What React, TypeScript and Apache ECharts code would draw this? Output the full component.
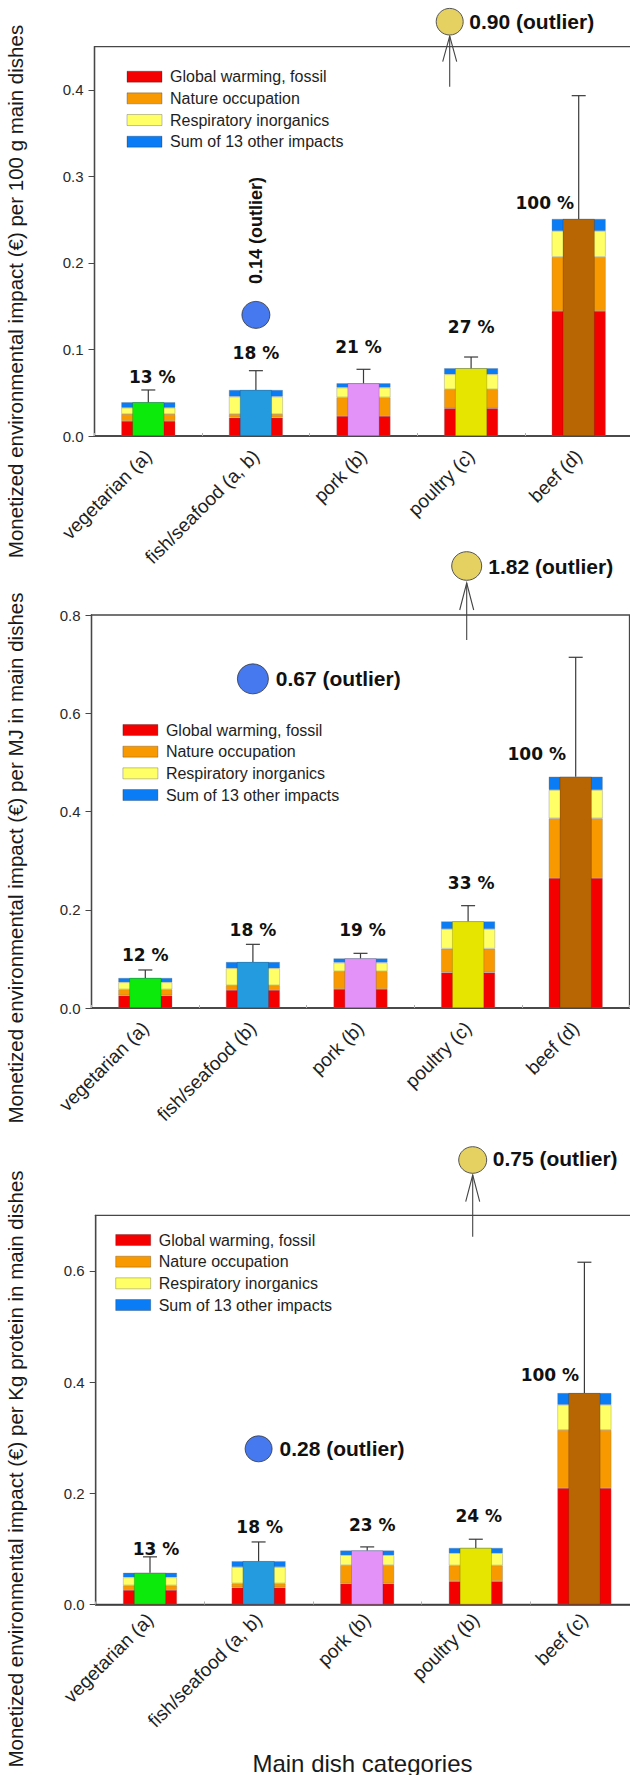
import React, { useEffect, useRef } from "react";
import * as echarts from "echarts";

// Impact categories shown in every panel (stacked on the wide bars)
const impactNames = ["Global warming, fossil", "Nature occupation", "Respiratory inorganics", "Sum of 13 other impacts"];
const impactColors = ["#F50000", "#F99900", "#FFFF66", "#0A7CF5"];
const dishColors = ["#0BEA0B", "#259BDF", "#E393F7", "#E6E500", "#B86503"];

// Panel 1: per 100 g main dishes
const categories100g = ["vegetarian (a)", "fish/seafood (a, b)", "pork (b)", "poultry (c)", "beef (d)"];
const warming100g = [0.0173, 0.0212, 0.0231, 0.032, 0.1445];
const nature100g = [0.0081, 0.0042, 0.0216, 0.022, 0.0625];
const respiratory100g = [0.0073, 0.0201, 0.0112, 0.0173, 0.03];
const other100g = [0.0063, 0.0077, 0.005, 0.007, 0.0139];
const error100g = [0.0142, 0.0223, 0.0162, 0.013, 0.1425];
const share100g = [13, 18, 21, 27, 100];
const fishOutlier100g = 0.14;
const beefOutlier100g = 0.9;

// Panel 2: per MJ in main dishes
const categoriesMJ = ["vegetarian (a)", "fish/seafood (b)", "pork (b)", "poultry (c)", "beef (d)"];
const warmingMJ = [0.0258, 0.0366, 0.0387, 0.0726, 0.2646];
const natureMJ = [0.0122, 0.0096, 0.036, 0.0482, 0.1215];
const respiratoryMJ = [0.0143, 0.0346, 0.0176, 0.04, 0.0577];
const otherMJ = [0.0088, 0.0128, 0.0088, 0.0156, 0.0271];
const errorMJ = [0.0163, 0.036, 0.0102, 0.0319, 0.243];
const shareMJ = [12, 18, 19, 33, 100];
const fishOutlierMJ = 0.67;
const beefOutlierMJ = 1.82;

// Panel 3: per kg protein in main dishes
const categoriesProtein = ["vegetarian (a)", "fish/seafood (a, b)", "pork (b)", "poultry (b)", "beef (c)"];
const warmingProtein = [0.026, 0.0308, 0.038, 0.0421, 0.2094];
const natureProtein = [0.0084, 0.0072, 0.0328, 0.0282, 0.1046];
const respiratoryProtein = [0.0143, 0.0292, 0.0179, 0.022, 0.0453];
const otherProtein = [0.0083, 0.0108, 0.0084, 0.0095, 0.021];
const errorProtein = [0.0287, 0.0345, 0.0065, 0.0156, 0.2353];
const shareProtein = [13, 18, 23, 24, 100];
const fishOutlierProtein = 0.28;
const beefOutlierProtein = 0.75;

const yTitles = [
  "Monetized environmental impact (\u20ac) per 100 g main dishes",
  "Monetized environmental impact (\u20ac) per MJ in main dishes",
  "Monetized environmental impact (\u20ac) per Kg protein in main dishes",
];
const xTitle = "Main dish categories";

const SANS = '"Liberation Sans", Arial, sans-serif';

// Layout of each panel (pixels)
const panels = [
  {
    categories: categories100g,
    components: [warming100g, nature100g, respiratory100g, other100g],
    errors: error100g,
    shares: share100g,
    fishOutlier: fishOutlier100g,
    beefOutlier: beefOutlier100g,
    yTitle: yTitles[0],
    yMax: 0.45,
    yInterval: 0.1,
    grid: { left: 94.5, top: 46.7, width: 538, height: 389.3 },
    legend: { left: 126.6, top: 67.7 },
    labelMargin: 17,
    yTitleCenter: 291.5,
    // [dx, lift] for the percentage labels
    nudges: [[4, 7], [0, 12], [-5, 16.7], [0, 23.7], [-34, 9.7]],
    fishSymbol: [28, 27],
    fishLabelVertical: true,
    arrow: { cx: 449.7, cy: 21.7, rx: 13.5, ry: 13.3, bottom: 86.7, tip: 36, head: 61.7, labelX: 469.3, labelY: 21.7 },
  },
  {
    categories: categoriesMJ,
    components: [warmingMJ, natureMJ, respiratoryMJ, otherMJ],
    errors: errorMJ,
    shares: shareMJ,
    fishOutlier: fishOutlierMJ,
    beefOutlier: beefOutlierMJ,
    yTitle: yTitles[1],
    yMax: 0.8,
    yInterval: 0.2,
    grid: { left: 91.5, top: 615, width: 538, height: 393 },
    legend: { left: 122.5, top: 721 },
    labelMargin: 17,
    yTitleCenter: 858,
    nudges: [[0, 9], [0, 8.3], [2, 17.6], [3, 16.4], [-39, 16.7]],
    fishSymbol: [31, 30],
    fishLabelVertical: false,
    arrow: { cx: 466.7, cy: 566, rx: 15, ry: 14.3, bottom: 640, tip: 583, head: 610, labelX: 488.3, labelY: 566 },
  },
  {
    categories: categoriesProtein,
    components: [warmingProtein, natureProtein, respiratoryProtein, otherProtein],
    errors: errorProtein,
    shares: shareProtein,
    fishOutlier: fishOutlierProtein,
    beefOutlier: beefOutlierProtein,
    yTitle: yTitles[2],
    yMax: 0.7,
    yInterval: 0.2,
    grid: { left: 95.7, top: 1215.3, width: 543, height: 389.2 },
    legend: { left: 115.3, top: 1231 },
    labelMargin: 12,
    yTitleCenter: 1469,
    nudges: [[6, 2.3], [1, 9], [5, 15.7], [3, 17], [-34.5, 11.6]],
    fishSymbol: [27, 26],
    fishLabelVertical: false,
    arrow: { cx: 472.7, cy: 1160, rx: 14, ry: 13.3, bottom: 1236.7, tip: 1175, head: 1201.7, labelX: 492.7, labelY: 1158.3 },
  },
];

function buildOption() {
  const grids: any[] = [];
  const xAxes: any[] = [];
  const yAxes: any[] = [];
  const series: any[] = [];
  const legends: any[] = [];
  const graphics: any[] = [];

  panels.forEach((p, k) => {
    grids.push({ ...p.grid, show: true, borderColor: "#474747", borderWidth: 1.3, backgroundColor: "transparent" });

    xAxes.push({
      gridIndex: k,
      type: "category",
      data: p.categories,
      axisLine: { show: true, lineStyle: { color: "#3c3c3c", width: 1.5 } },
      axisTick: { show: true, inside: true, length: 3, lineStyle: { color: "#b0b0b0" } },
      axisLabel: { rotate: 45, interval: 0, margin: p.labelMargin, fontSize: 19, fontFamily: SANS, color: "#1e1e1e" },
    });
    xAxes.push({ gridIndex: k, type: "category", data: p.categories, show: false });

    const maxIsTick = Math.abs(p.yMax / p.yInterval - Math.round(p.yMax / p.yInterval)) < 1e-6;
    yAxes.push({
      gridIndex: k,
      type: "value",
      min: 0,
      max: p.yMax,
      interval: p.yInterval,
      splitLine: { show: false },
      axisLine: { show: true, lineStyle: { color: "#474747", width: 1.3 } },
      axisTick: { show: true, length: 6, lineStyle: { color: "#474747" } },
      axisLabel: {
        margin: 11,
        fontSize: 15,
        fontFamily: SANS,
        color: "#2a2a2a",
        showMaxLabel: maxIsTick,
        formatter: (v: number) => v.toFixed(1),
      },
    });

    // Stacked impact components
    p.components.forEach((vals, j) => {
      series.push({
        type: "bar",
        name: impactNames[j],
        stack: "impacts" + k,
        xAxisIndex: 2 * k,
        yAxisIndex: k,
        barWidth: 54,
        data: vals,
        itemStyle: { color: impactColors[j], borderColor: "rgba(120,120,120,0.55)", borderWidth: 0.6 },
        silent: true,
        z: 2,
      });
    });

    // Total per dish category, drawn as a narrower bar in front
    const totals = p.categories.map((_, i) => p.components.reduce((s, arr) => s + arr[i], 0));
    series.push({
      type: "bar",
      name: "total" + k,
      xAxisIndex: 2 * k + 1,
      yAxisIndex: k,
      barWidth: 32,
      data: totals.map((v, i) => ({ value: v, itemStyle: { color: dishColors[i] } })),
      itemStyle: { borderColor: "rgba(0,0,0,0.28)", borderWidth: 0.6 },
      silent: true,
      z: 3,
    });

    // Upper error bars and share labels
    const n = p.categories.length;
    const nudges = p.nudges;
    series.push({
      type: "custom",
      xAxisIndex: 2 * k + 1,
      yAxisIndex: k,
      silent: true,
      z: 4,
      data: totals.map((v, i) => [i, v, v + p.errors[i], p.shares[i]]),
      renderItem: (_params: any, api: any) => {
        const i = api.value(0);
        const total = api.value(1);
        const upper = api.value(2);
        const share = api.value(3);
        const base = api.coord([i, total]);
        const top = api.coord([i, upper]);
        const cap = 7;
        const [dx, lift] = nudges[i];
        const anchorY = i === n - 1 ? base[1] : top[1];
        const stroke = { stroke: "#3a3a3a", lineWidth: 1.2 };
        return {
          type: "group",
          children: [
            { type: "line", shape: { x1: base[0], y1: base[1], x2: top[0], y2: top[1] }, style: stroke },
            { type: "line", shape: { x1: top[0] - cap, y1: top[1], x2: top[0] + cap, y2: top[1] }, style: stroke },
            {
              type: "text",
              x: base[0] + dx,
              y: anchorY - lift + 2.5,
              style: {
                text: share + " %",
                fill: "#111",
                font: 'bold 17px "DejaVu Sans", sans-serif',
                align: "center",
                verticalAlign: "bottom",
              },
            },
          ],
        };
      },
    });

    // Fish/seafood outlier inside the plot
    const outlierLabel = p.fishLabelVertical
      ? { show: true, position: "top", distance: 11, rotate: 90, align: "left", verticalAlign: "middle", offset: [6, 0], fontSize: 18 }
      : { show: true, position: "right", distance: 7, fontSize: 21 };
    series.push({
      type: "scatter",
      xAxisIndex: 2 * k,
      yAxisIndex: k,
      symbol: "circle",
      symbolSize: p.fishSymbol,
      data: [[1, p.fishOutlier]],
      itemStyle: { color: "#4679EF", borderColor: "#333", borderWidth: 0.8, opacity: 1 },
      label: {
        ...outlierLabel,
        fontWeight: "bold",
        fontFamily: SANS,
        color: "#111",
        opacity: 1,
        formatter: (q: any) => q.value[1].toFixed(2) + " (outlier)",
      },
      silent: true,
      z: 5,
    });

    legends.push({
      data: impactNames,
      orient: "vertical",
      left: p.legend.left,
      top: p.legend.top,
      padding: 0,
      itemWidth: 35,
      itemHeight: 11,
      itemGap: 3.67,
      icon: "rect",
      selectedMode: false,
      itemStyle: { borderColor: "rgba(0,0,0,0.3)", borderWidth: 0.8 },
      textStyle: { fontSize: 16, fontFamily: SANS, color: "#1e1e1e", lineHeight: 18, padding: [0, 0, 0, 3] },
    });

    // Y axis title
    graphics.push({
      type: "text",
      x: 15,
      y: p.yTitleCenter,
      rotation: Math.PI / 2,
      style: { text: p.yTitle, font: "20.5px " + SANS, fill: "#1a1a1a", align: "center", verticalAlign: "middle" },
    });

    // Beef outlier beyond the axis range, pointed to with an arrow
    const a = p.arrow;
    const line = { stroke: "#444", lineWidth: 1.1 };
    graphics.push({ type: "line", shape: { x1: a.cx, y1: a.bottom, x2: a.cx, y2: a.tip }, style: line });
    graphics.push({ type: "polyline", shape: { points: [[a.cx - 7, a.head], [a.cx, a.tip], [a.cx + 7, a.head]] }, style: { ...line, fill: null } });
    graphics.push({
      type: "ellipse",
      shape: { cx: a.cx, cy: a.cy, rx: a.rx, ry: a.ry },
      style: { fill: "#E5D062", stroke: "#555", lineWidth: 1 },
    });
    graphics.push({
      type: "text",
      x: a.labelX,
      y: a.labelY,
      style: {
        text: p.beefOutlier.toFixed(2) + " (outlier)",
        font: "bold 21px " + SANS,
        fill: "#111",
        align: "left",
        verticalAlign: "middle",
      },
    });
  });

  graphics.push({
    type: "text",
    x: 362.5,
    y: 1763,
    style: { text: xTitle, font: "24px " + SANS, fill: "#1a1a1a", align: "center", verticalAlign: "middle" },
  });

  return {
    animation: false,
    backgroundColor: "#ffffff",
    grid: grids,
    xAxis: xAxes,
    yAxis: yAxes,
    legend: legends,
    series,
    graphic: graphics,
  };
}

export default function App() {
  const ref = useRef<HTMLDivElement>(null);
  useEffect(() => {
    if (!ref.current) return;
    const chart = echarts.init(ref.current, null, { renderer: "svg" });
    chart.setOption(buildOption() as any);
    return () => chart.dispose();
  }, []);
  return (
    <div style={{ position: "absolute", left: 0, top: 0, width: 630, height: 1775, overflow: "hidden", background: "#fff" }}>
      <div ref={ref} style={{ width: 640, height: 1775 }} />
    </div>
  );
}
